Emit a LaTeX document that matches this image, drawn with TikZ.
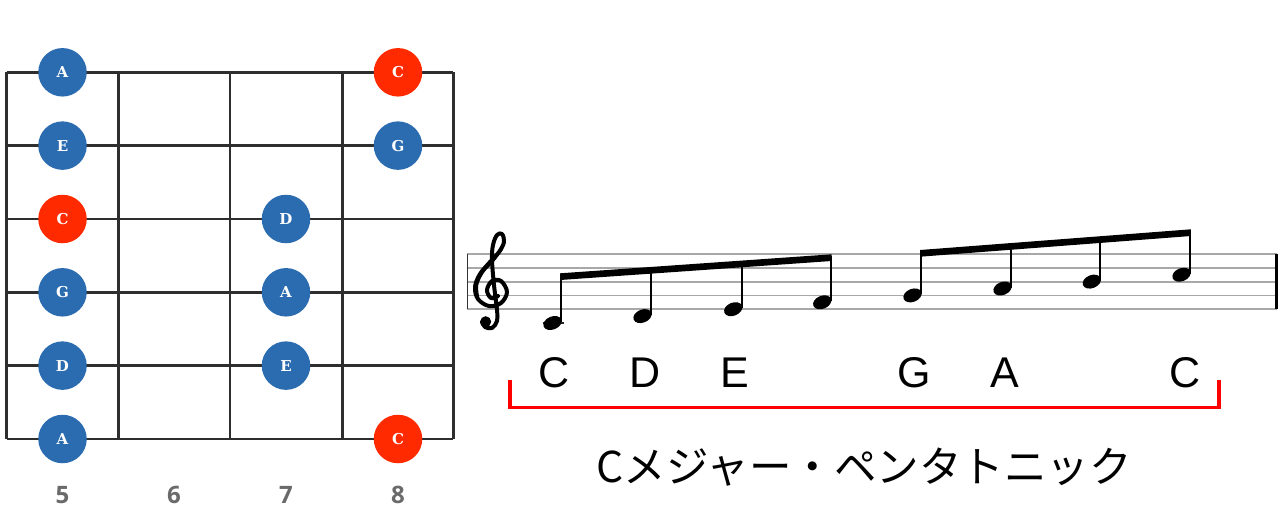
\documentclass[tikz,border=0pt]{standalone}
\usepackage{fontspec}
\newfontfamily\jpfont{Noto Sans CJK JP}
\newfontfamily\dotfont{DejaVu Serif}
\newfontfamily\numfont{Open Sans}
\newfontfamily\labfont{Liberation Sans}
\definecolor{dotblue}{HTML}{2B6CB0}
\definecolor{dotred}{HTML}{FF2A00}
\definecolor{fretgray}{HTML}{2E2E2E}
\definecolor{staffgray}{HTML}{A8A8A8}
\definecolor{numgray}{HTML}{6A6A6A}
\definecolor{brred}{HTML}{FF0000}
\begin{document}
\begin{tikzpicture}[x=1pt,y=-1pt,
  fret/.style={draw=fretgray,line width=2.8pt,line cap=square},
  dotb/.style={circle,fill=dotblue,minimum size=48.5pt,inner sep=0pt,text=white,font=\dotfont\bfseries\fontsize{15}{15}\selectfont},
  dotr/.style={dotb,fill=dotred},
  fretnum/.style={text=numgray,font=\numfont\bfseries\fontsize{24}{24}\selectfont,inner sep=0pt},
  staffline/.style={draw=staffgray,line width=1.8pt},
  stem/.style={draw=black,line width=1.8pt},
  notelabel/.style={font=\labfont\fontsize{43}{43}\selectfont,inner sep=0pt},
  bracket/.style={draw=brred,line width=3.3pt},
  title/.style={font=\jpfont\fontsize{42.5}{42.5}\selectfont,inner sep=0pt}]
\useasboundingbox (0,0) rectangle (1280,520);
\fill[white] (0,0) rectangle (1280,520);
% fretboard
\foreach \yy in {72.3,145.6,219,292.3,365.6,439}
  \draw[fret] (6.7,\yy) -- (453.3,\yy);
\foreach \xx in {6.7,118.3,230,342.3,453.3}
  \draw[fret] (\xx,72.3) -- (\xx,439);
% dots
\node[dotb] (d1) at (62.5,72.3) {A};
\node[dotb] (d2) at (62.5,145.6) {E};
\node[dotr] (d3) at (62.5,219) {C};
\node[dotb] (d4) at (62.5,292.3) {G};
\node[dotb] (d5) at (62.5,365.6) {D};
\node[dotb] (d6) at (62.5,439) {A};
\node[dotb] (d7) at (286,219) {D};
\node[dotb] (d8) at (286,292.3) {A};
\node[dotb] (d9) at (286,365.6) {E};
\node[dotr] (d10) at (398,72.3) {C};
\node[dotb] (d11) at (398,145.6) {G};
\node[dotr] (d12) at (398,439) {C};
% fret numbers
\node[fretnum] (f5) at (62.5,495) {5};
\node[fretnum] (f6) at (174,495) {6};
\node[fretnum] (f7) at (286,495) {7};
\node[fretnum] (f8) at (398,495) {8};
% staff
\foreach \yy in {254,267.8,281.6,295.4,309.2}
  \draw[staffline] (467,\yy) -- (1277,\yy);
\draw[draw=black!80,line width=1.6pt] (467.3,254) -- (467.3,309.2);
\draw[draw=black,line width=2.8pt] (1276.5,254) -- (1276.5,309.2);
% treble clef
\draw[line width=4pt,line cap=round,line join=round] plot[smooth,tension=0.6] coordinates {
 (498,296) (491,298) (487,290) (492,281) (501,281) (507,292) (501,303) (489,306)
 (478,299) (475,287) (480,274) (490,262) (499,252) (504,242) (502,234) (497,235)
 (493,245) (492,260) (494,285) (497,310) (497,321) (492,328) (485,327) (482,322)};
\draw[line width=2.5pt] plot[smooth,tension=0.6] coordinates {(478,297) (477,285) (483,272) (493,261) (502,249)};
\fill (485.7,321.7) circle (5.5);
% ledger line
\draw[draw=black!85,line width=1.6pt] (542.5,323) -- (564,323);
% noteheads
\foreach \sx/\ny in {561/323,651/316.1,741.7/309.2,830.7/302.3,921/295.4,1011/288.5,1100.3/281.6,1190/274.7}
  \fill[rotate around={22:(\sx-8.5,\ny)}] (\sx-8.5,\ny) ellipse (9.5 and 6.5);
% stems group 1 (beam top from (561,273.3) to (830.7,254.3))
\foreach \sx/\ny in {561/323,651/316.1,741.7/309.2,830.7/302.3}
  \draw[stem] (\sx,\ny-1) -- (\sx,{273.3+(\sx-561)*(254.3-273.3)/269.7+2});
\fill (560.1,273.3) -- (831.6,254.3) -- (831.6,261) -- (560.1,280) -- cycle;
% stems group 2 (beam top from (921,250) to (1190,229.3))
\foreach \sx/\ny in {921/295.4,1011/288.5,1100.3/281.6,1190/274.7}
  \draw[stem] (\sx,\ny-1) -- (\sx,{250+(\sx-921)*(229.3-250)/269+2});
\fill (920.1,250) -- (1190.9,229.3) -- (1190.9,236) -- (920.1,256.7) -- cycle;
% note labels
\node[notelabel] (lC) at (554.5,373) {C};
\node[notelabel] (lD) at (645,373) {D};
\node[notelabel] (lE) at (735,373) {E};
\node[notelabel] (lG) at (914,373) {G};
\node[notelabel] (lA) at (1005,373) {A};
\node[notelabel] (lC2) at (1185,373) {C};
% bracket
\coordinate (b1) at (510,380);
\coordinate (b2) at (510,407.3);
\coordinate (b3) at (1219,407.3);
\coordinate (b4) at (1219,380);
\draw[bracket] (b1) -- (b2) -- (b3) -- (b4);
% title
\node[title] (t) at (864,467) {Cメジャー・ペンタトニック};
\end{tikzpicture}
\end{document}
